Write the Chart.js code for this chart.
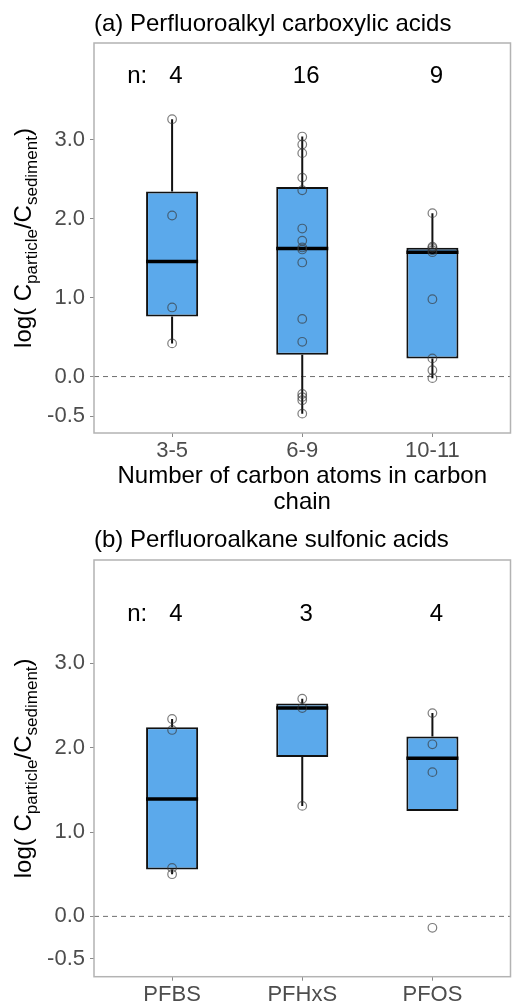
<!DOCTYPE html>
<html>
<head>
<meta charset="utf-8">
<script src="https://cdn.jsdelivr.net/npm/chart.js@4.4.1/dist/chart.umd.min.js"></script>
<style>
  html, body { margin: 0; padding: 0; background: #fff; }
  .panel { position: relative; width: 516px; }
  canvas { display: block; }
</style>
</head>
<body>
<div class="panel" style="height:520px"><canvas id="pfca" width="516" height="520"></canvas></div>
<div class="panel" style="height:488px"><canvas id="pfsa" width="516" height="488"></canvas></div>
<script>
const FONT = "'Liberation Sans', Arial, Helvetica, sans-serif";
const BOX_FILL = "#5BA9EB";

// log(C_particle / C_sediment) per sample, grouped by chain length
const chainGroups = ["3-5", "6-9", "10-11"];
const chain3to5 = [0.42, 0.875, 2.04, 3.26];
const chain6to9 = [-0.47, -0.30, -0.26, -0.22, 0.44, 0.73, 1.445, 1.61, 1.635, 1.72, 1.875, 2.36, 2.52, 2.83, 2.94, 3.04];
const chain10to11 = [-0.02, 0.08, 0.23, 0.98, 1.575, 1.60, 1.63, 1.645, 2.07];

// same ratio for the sulfonic acids
const sulfonicGroups = ["PFBS", "PFHxS", "PFOS"];
const pfbs = [0.50, 0.575, 2.21, 2.34];
const pfhxs = [1.31, 2.47, 2.58];
const pfos = [-0.135, 1.71, 2.04, 2.41];

const yTicks = [-0.5, 0, 1, 2, 3];
const yRange = [-0.715, 4.225];

// R type-7 quantile on a sorted array
function quantile(sorted, p) {
  const h = (sorted.length - 1) * p;
  const lo = Math.floor(h);
  const hi = Math.ceil(h);
  return sorted[lo] + (h - lo) * (sorted[hi] - sorted[lo]);
}

function boxStats(values) {
  const s = [...values].sort((a, b) => a - b);
  const q1 = quantile(s, 0.25);
  const med = quantile(s, 0.5);
  const q3 = quantile(s, 0.75);
  const iqr = q3 - q1;
  const inside = s.filter(v => v >= q1 - 1.5 * iqr && v <= q3 + 1.5 * iqr);
  return {
    q1, med, q3,
    lo: Math.min(q1, inside[0]),
    hi: Math.max(q3, inside[inside.length - 1])
  };
}

function buildDatasets(groups) {
  const stats = groups.map(boxStats);
  const whiskers = [];
  const medians = [];
  const points = [];
  stats.forEach((s, i) => {
    const x = i + 1;
    whiskers.push({x, y: s.q3}, {x, y: s.hi}, {x, y: null},
                  {x, y: s.q1}, {x, y: s.lo}, {x, y: null});
    medians.push({x: x - 0.2, y: s.med}, {x: x + 0.2, y: s.med}, {x, y: null});
  });
  groups.forEach((vals, i) => vals.forEach(v => points.push({x: i + 1, y: v})));

  return [
    {
      type: "line", data: whiskers, borderColor: "#111", borderWidth: 2,
      pointRadius: 0, spanGaps: false, order: 4
    },
    {
      type: "bar",
      data: stats.map((s, i) => ({x: i + 1, y: [s.q1, s.q3]})),
      backgroundColor: BOX_FILL, borderColor: "#111", borderWidth: 2,
      borderSkipped: false, categoryPercentage: 1, barPercentage: 0.4, order: 3
    },
    {
      type: "line", data: medians, borderColor: "#000", borderWidth: 3.5,
      pointRadius: 0, spanGaps: false, order: 2
    },
    {
      type: "scatter", data: points, pointRadius: 4.3, pointBorderWidth: 1.2,
      pointBorderColor: "rgba(55,55,55,0.65)", pointBackgroundColor: "rgba(0,0,0,0)",
      order: 1
    }
  ];
}

function drawYTitle(ctx, cx, cy) {
  const parts = [
    ["log( C", 24, 0],
    ["particle", 17, 6],
    ["/C", 24, 0],
    ["sediment", 17, 6],
    [")", 24, 0]
  ];
  ctx.save();
  ctx.translate(cx, cy);
  ctx.rotate(-Math.PI / 2);
  ctx.fillStyle = "#000";
  ctx.textBaseline = "alphabetic";
  ctx.textAlign = "left";
  let total = 0;
  parts.forEach(p => {
    ctx.font = p[1] + "px " + FONT;
    total += ctx.measureText(p[0]).width;
  });
  let x = -total / 2;
  parts.forEach(p => {
    ctx.font = p[1] + "px " + FONT;
    ctx.fillText(p[0], x, p[2]);
    x += ctx.measureText(p[0]).width;
  });
  ctx.restore();
}

// dashed zero line, frame, panel title, axis title and sample counts
function panelDecor(opts) {
  return {
    id: "panelDecor",
    beforeDatasetsDraw(chart) {
      const {ctx, chartArea: a, scales: {y}} = chart;
      const y0 = y.getPixelForValue(0);
      ctx.save();
      ctx.strokeStyle = "#6f6f6f";
      ctx.lineWidth = 1;
      ctx.setLineDash([5, 4]);
      ctx.beginPath();
      ctx.moveTo(a.left, y0);
      ctx.lineTo(a.right, y0);
      ctx.stroke();
      ctx.restore();
    },
    afterDraw(chart) {
      const {ctx, chartArea: a, scales: {x, y}} = chart;
      ctx.save();
      ctx.strokeStyle = "#b3b3b3";
      ctx.lineWidth = 1.5;
      ctx.strokeRect(a.left, a.top, a.right - a.left, a.bottom - a.top);

      ctx.fillStyle = "#000";
      ctx.font = "24px " + FONT;
      ctx.textAlign = "left";
      ctx.textBaseline = "alphabetic";
      ctx.fillText(opts.title, a.left, opts.titleBaseline);

      const ny = y.getPixelForValue(opts.countAt);
      ctx.textAlign = "center";
      ctx.textBaseline = "middle";
      ctx.fillText("n:", x.getPixelForValue(0.732), ny);
      opts.groups.forEach((vals, i) => {
        ctx.fillText(String(vals.length), x.getPixelForValue(i + 1.03), ny);
      });
      ctx.restore();

      drawYTitle(ctx, 30.5, (a.top + a.bottom) / 2);
    }
  };
}

function makeChart(id, cfg) {
  const tickFont = {family: FONT, size: 22};
  new Chart(document.getElementById(id), {
    type: "bar",
    data: {datasets: buildDatasets(cfg.groups)},
    options: {
      responsive: false,
      animation: false,
      layout: {padding: {top: cfg.top, right: 3, left: 0, bottom: 0}},
      plugins: {legend: {display: false}, tooltip: {enabled: false}},
      scales: {
        x: {
          type: "linear", min: 0.4, max: 3.6, offset: false,
          afterBuildTicks: s => { s.ticks = cfg.labels.map((l, i) => ({value: i + 1})); },
          afterFit: s => { s.height = cfg.xHeight; },
          ticks: {
            callback: v => cfg.labels[v - 1], font: tickFont, color: "#4d4d4d",
            padding: 1, autoSkip: false, maxRotation: 0
          },
          grid: {drawOnChartArea: false, tickLength: 4, color: "#8a8a8a", offset: false},
          border: {display: false},
          title: cfg.xTitle ? {
            display: true, text: cfg.xTitle, color: "#000",
            font: {family: FONT, size: 24, lineHeight: 1.1},
            padding: {top: 0, bottom: 4}
          } : {display: false}
        },
        y: {
          type: "linear", min: yRange[0], max: yRange[1],
          afterBuildTicks: s => { s.ticks = yTicks.map(v => ({value: v})); },
          afterFit: s => { s.width = 94; },
          ticks: {callback: v => v.toFixed(1), font: tickFont, color: "#4d4d4d", padding: 5},
          grid: {drawOnChartArea: false, tickLength: 4, color: "#8a8a8a"},
          border: {display: false}
        }
      }
    },
    plugins: [panelDecor(cfg)]
  });
}

makeChart("pfca", {
  groups: [chain3to5, chain6to9, chain10to11],
  labels: chainGroups,
  title: "(a) Perfluoroalkyl carboxylic acids",
  titleBaseline: 31,
  top: 43,
  xHeight: 87,
  xTitle: ["Number of carbon atoms in carbon", "chain"],
  countAt: 3.8
});

makeChart("pfsa", {
  groups: [pfbs, pfhxs, pfos],
  labels: sulfonicGroups,
  title: "(b) Perfluoroalkane sulfonic acids",
  titleBaseline: 27,
  top: 40,
  xHeight: 31.3,
  xTitle: null,
  countAt: 3.58
});
</script>
</body>
</html>
